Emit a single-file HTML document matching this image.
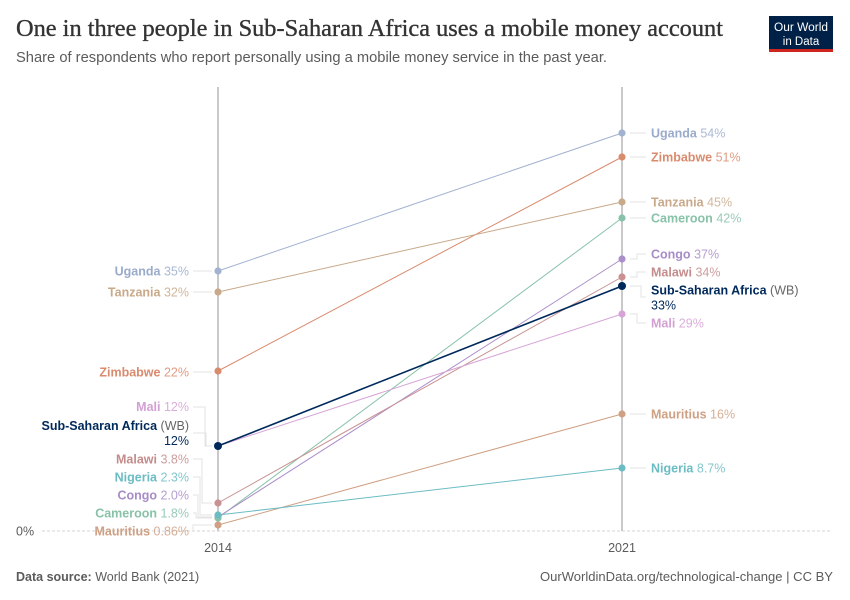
<!DOCTYPE html>
<html>
<head>
<meta charset="utf-8">
<style>
  html, body { margin:0; padding:0; background:#fff; }
  svg { display:block; }
  text { font-family: "Liberation Sans", "DejaVu Sans", sans-serif; }
  .ttl { font-family: "Liberation Serif", serif; }
  .lbl { font-size:12.5px; }
  .nm { font-weight:bold; }
</style>
</head>
<body>
<svg width="850" height="600" viewBox="0 0 850 600" xmlns="http://www.w3.org/2000/svg">
  <rect width="850" height="600" fill="#fff"/>

  <!-- Header -->
  <text class="ttl" x="16" y="36" font-size="24" fill="#333" stroke="#333" stroke-width="0.35" textLength="707" lengthAdjust="spacingAndGlyphs">One in three people in Sub-Saharan Africa uses a mobile money account</text>
  <text x="16" y="62" font-size="14.5" fill="#5b5b5b" textLength="591" lengthAdjust="spacingAndGlyphs">Share of respondents who report personally using a mobile money service in the past year.</text>

  <!-- Logo -->
  <rect x="769" y="16" width="64" height="34" fill="#002147"/>
  <rect x="769" y="49" width="64" height="3" fill="#ce261e"/>
  <text x="801" y="31" font-size="11.5" fill="#fff" text-anchor="middle" textLength="54" lengthAdjust="spacingAndGlyphs">Our World</text>
  <text x="801" y="45" font-size="11.5" fill="#fff" text-anchor="middle">in Data</text>

  <!-- Zero line -->
  <line x1="42" y1="531" x2="830" y2="531" stroke="#d6d6d6" stroke-width="1" stroke-dasharray="3,2"/>
  <text x="16" y="535.5" font-size="12.5" fill="#5b5b5b">0%</text>

  <!-- Vertical axes -->
  <line x1="218" y1="87" x2="218" y2="531" stroke="#c9c9c9" stroke-width="2"/>
  <line x1="622" y1="87" x2="622" y2="531" stroke="#c9c9c9" stroke-width="2"/>
  <text x="218" y="552" font-size="12.5" fill="#5b5b5b" text-anchor="middle">2014</text>
  <text x="622" y="552" font-size="12.5" fill="#5b5b5b" text-anchor="middle">2021</text>

  <!-- Connectors left -->
  <g stroke="#e3e3e3" stroke-width="1" fill="none">
    <path d="M193,271 H212"/>
    <path d="M193,292 H212"/>
    <path d="M193,372 H212"/>
    <path d="M193,407 H205 V446 H212"/>
    <path d="M193,433 H206 V446 H212"/>
    <path d="M193,459 H202 V503 H212"/>
    <path d="M193,477 H200 V515 H212"/>
    <path d="M193,495 H198 V517 H212"/>
    <path d="M193,513 H196 V518 H212"/>
    <path d="M193,531 V525 H212"/>
  </g>
  <!-- Connectors right -->
  <g stroke="#e3e3e3" stroke-width="1" fill="none">
    <path d="M630,133 H646"/>
    <path d="M630,157 H646"/>
    <path d="M630,202 H646"/>
    <path d="M630,218 H646"/>
    <path d="M630,259 H637 V254 H646"/>
    <path d="M630,277 H637 V272 H646"/>
    <path d="M630,286 H641 V297 H646"/>
    <path d="M630,314 H637 V323 H646"/>
    <path d="M630,414 H646"/>
    <path d="M630,468 H646"/>
  </g>

  <!-- Lines -->
  <g stroke-width="1" fill="none">
    <line x1="218" y1="525" x2="622" y2="414" stroke="#cfa084"/>
    <line x1="218" y1="515" x2="622" y2="468" stroke="#6cbcc4"/>
    <line x1="218" y1="518" x2="622" y2="218" stroke="#88c2a8"/>
    <line x1="218" y1="517" x2="622" y2="259" stroke="#ab8fcb"/>
    <line x1="218" y1="503" x2="622" y2="277" stroke="#c99191"/>
    <line x1="218" y1="446" x2="622" y2="314" stroke="#d6a4d6"/>
    <line x1="218" y1="371" x2="622" y2="157" stroke="#d98b6e"/>
    <line x1="218" y1="292" x2="622" y2="202" stroke="#c8a98a"/>
    <line x1="218" y1="271" x2="622" y2="133" stroke="#a2b2d0"/>
    <line x1="218" y1="446" x2="622" y2="286" stroke="#00295b" stroke-width="1.6"/>
  </g>

  <!-- Dots -->
  <g>
    <circle cx="218" cy="525" r="3.6" fill="#cfa084"/>
    <circle cx="622" cy="414" r="3.6" fill="#cfa084"/>
    <circle cx="218" cy="503" r="3.6" fill="#c99191"/>
    <circle cx="622" cy="277" r="3.6" fill="#c99191"/>
    <circle cx="218" cy="517" r="3.6" fill="#ab8fcb"/>
    <circle cx="622" cy="259" r="3.6" fill="#ab8fcb"/>
    <circle cx="218" cy="518" r="3.6" fill="#88c2a8"/>
    <circle cx="622" cy="218" r="3.6" fill="#88c2a8"/>
    <circle cx="218" cy="515" r="3.6" fill="#6cbcc4"/>
    <circle cx="622" cy="468" r="3.6" fill="#6cbcc4"/>
    <circle cx="622" cy="314" r="3.6" fill="#d6a4d6"/>
    <circle cx="218" cy="371" r="3.6" fill="#d98b6e"/>
    <circle cx="622" cy="157" r="3.6" fill="#d98b6e"/>
    <circle cx="218" cy="292" r="3.6" fill="#c8a98a"/>
    <circle cx="622" cy="202" r="3.6" fill="#c8a98a"/>
    <circle cx="218" cy="271" r="3.6" fill="#a2b2d0"/>
    <circle cx="622" cy="133" r="3.6" fill="#a2b2d0"/>
    <circle cx="218" cy="446" r="4" fill="#00295b"/>
    <circle cx="622" cy="286" r="4" fill="#00295b"/>
  </g>

  <!-- Left labels -->
  <g class="lbl" text-anchor="end">
    <text x="189" y="275.5" fill="#9aabcb"><tspan class="nm">Uganda</tspan> <tspan fill-opacity="0.85">35%</tspan></text>
    <text x="189" y="296.5" fill="#c8a98a"><tspan class="nm">Tanzania</tspan> <tspan fill-opacity="0.85">32%</tspan></text>
    <text x="189" y="376.5" fill="#d98b6e"><tspan class="nm">Zimbabwe</tspan> <tspan fill-opacity="0.85">22%</tspan></text>
    <text x="189" y="411" fill="#d3a0d3"><tspan class="nm">Mali</tspan> <tspan fill-opacity="0.85">12%</tspan></text>
    <text x="189" y="430" fill="#00295b"><tspan class="nm">Sub-Saharan Africa</tspan> <tspan fill="#666">(WB)</tspan></text>
    <text x="189" y="445" fill="#00295b">12%</text>
    <text x="189" y="463.5" fill="#c48c8c"><tspan class="nm">Malawi</tspan> <tspan fill-opacity="0.85">3.8%</tspan></text>
    <text x="189" y="481.5" fill="#6cbcc4"><tspan class="nm">Nigeria</tspan> <tspan fill-opacity="0.85">2.3%</tspan></text>
    <text x="189" y="499.5" fill="#a88cc8"><tspan class="nm">Congo</tspan> <tspan fill-opacity="0.85">2.0%</tspan></text>
    <text x="189" y="517.5" fill="#88c2a8"><tspan class="nm">Cameroon</tspan> <tspan fill-opacity="0.85">1.8%</tspan></text>
    <text x="189" y="535.5" fill="#cfa084"><tspan class="nm">Mauritius</tspan> <tspan fill-opacity="0.85">0.86%</tspan></text>
  </g>

  <!-- Right labels -->
  <g class="lbl" text-anchor="start">
    <text x="651" y="137.5" fill="#9aabcb"><tspan class="nm">Uganda</tspan> <tspan fill-opacity="0.85">54%</tspan></text>
    <text x="651" y="161.5" fill="#d98b6e"><tspan class="nm">Zimbabwe</tspan> <tspan fill-opacity="0.85">51%</tspan></text>
    <text x="651" y="206.5" fill="#c8a98a"><tspan class="nm">Tanzania</tspan> <tspan fill-opacity="0.85">45%</tspan></text>
    <text x="651" y="222.5" fill="#88c2a8"><tspan class="nm">Cameroon</tspan> <tspan fill-opacity="0.85">42%</tspan></text>
    <text x="651" y="258.5" fill="#a88cc8"><tspan class="nm">Congo</tspan> <tspan fill-opacity="0.85">37%</tspan></text>
    <text x="651" y="276.5" fill="#c48c8c"><tspan class="nm">Malawi</tspan> <tspan fill-opacity="0.85">34%</tspan></text>
    <text x="651" y="294.5" fill="#00295b"><tspan class="nm">Sub-Saharan Africa</tspan> <tspan fill="#666">(WB)</tspan></text>
    <text x="651" y="309.5" fill="#00295b">33%</text>
    <text x="651" y="327.5" fill="#d3a0d3"><tspan class="nm">Mali</tspan> <tspan fill-opacity="0.85">29%</tspan></text>
    <text x="651" y="418.5" fill="#cfa084"><tspan class="nm">Mauritius</tspan> <tspan fill-opacity="0.85">16%</tspan></text>
    <text x="651" y="472.5" fill="#6cbcc4"><tspan class="nm">Nigeria</tspan> <tspan fill-opacity="0.85">8.7%</tspan></text>
  </g>

  <!-- Footer -->
  <text x="16" y="581" font-size="12.5" fill="#5b5b5b"><tspan font-weight="bold">Data source:</tspan> World Bank (2021)</text>
  <text x="833" y="581" font-size="12.5" fill="#5b5b5b" text-anchor="end" textLength="293" lengthAdjust="spacingAndGlyphs">OurWorldinData.org/technological-change | CC BY</text>
</svg>
</body>
</html>
